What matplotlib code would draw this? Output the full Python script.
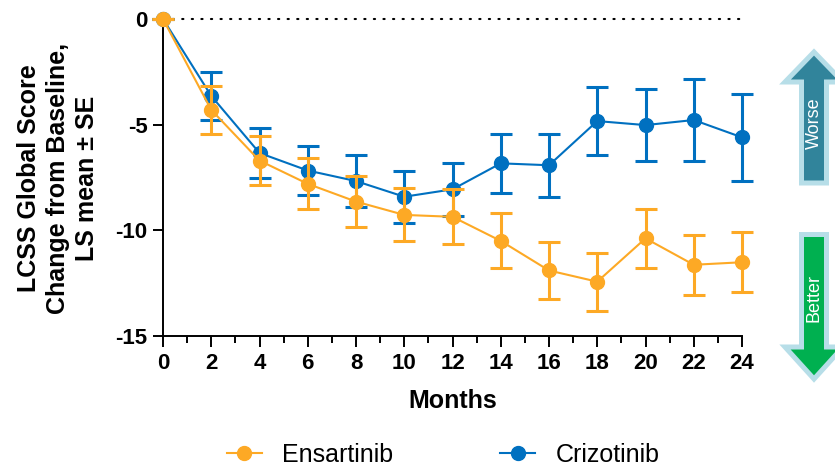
import matplotlib
matplotlib.use("Agg")
import matplotlib.pyplot as plt
from matplotlib.patches import Polygon
from matplotlib.lines import Line2D
from matplotlib.ticker import MultipleLocator

plt.rcParams['font.family'] = ['Liberation Sans', 'DejaVu Sans']
plt.rcParams['axes.unicode_minus'] = False

months = [0, 2, 4, 6, 8, 10, 12, 14, 16, 18, 20, 22, 24]

ens_mean = [0, -4.3, -6.7, -7.8, -8.64, -9.27, -9.36, -10.5, -11.9, -12.43, -10.38, -11.63, -11.51]
ens_se = [0, 1.12, 1.17, 1.21, 1.22, 1.25, 1.3, 1.3, 1.36, 1.37, 1.39, 1.41, 1.43]

criz_mean = [0, -3.64, -6.34, -7.17, -7.67, -8.41, -8.06, -6.83, -6.92, -4.83, -5.02, -4.78, -5.6]
criz_se = [0, 1.14, 1.19, 1.17, 1.22, 1.22, 1.26, 1.39, 1.49, 1.61, 1.72, 1.95, 2.06]

ens_color = '#FDA925'
criz_color = '#0070C0'

W, H = 835, 467
fig = plt.figure(figsize=(W / 100, H / 100), dpi=100)
ax = fig.add_axes([163 / W, 1 - 336 / H, (742 - 163) / W, (336 - 19) / H])

ax.plot([0, 24], [0, 0], color='black', lw=1.5, linestyle=(0, (0.6, 4.0)),
        dash_capstyle='round', zorder=1, clip_on=False)

common = dict(marker='o', markersize=10, lw=1.5, elinewidth=2.2, capsize=8,
              capthick=2.2, clip_on=False)
c = ax.errorbar(months, criz_mean, yerr=criz_se, color=criz_color, zorder=3,
                **common)
e = ax.errorbar(months, ens_mean, yerr=ens_se, color=ens_color, zorder=4,
                **common)
for cont in (c, e):
    for art in cont.lines[1]:
        art.set_clip_on(False)
    for art in cont.lines[2]:
        art.set_clip_on(False)

ax.set_xlim(0, 24)
ax.set_ylim(-15, 0)
ax.xaxis.set_major_locator(MultipleLocator(2))
ax.xaxis.set_minor_locator(MultipleLocator(1))
ax.yaxis.set_major_locator(MultipleLocator(5))
ax.spines['top'].set_visible(False)
ax.spines['right'].set_visible(False)
for s in ('left', 'bottom'):
    ax.spines[s].set_linewidth(1.4)
ax.tick_params(axis='x', which='major', direction='out', length=8, width=1.4,
               labelsize=16, pad=4)
ax.tick_params(axis='x', which='minor', direction='out', length=5, width=1.4)
ax.tick_params(axis='y', which='major', direction='out', length=7.5, width=1.4,
               labelsize=16, pad=3.5)
for lab in ax.get_xticklabels() + ax.get_yticklabels():
    lab.set_fontweight('bold')

ax.set_xlabel('Months', fontsize=18, fontweight='bold', labelpad=11)

fig.text(58 / W, 1 - 178 / H, 'LCSS Global Score\nChange from Baseline,\nLS mean ± SE',
         rotation=90, ha='center', va='center', multialignment='center',
         fontsize=18, fontweight='bold', linespacing=1.27)

handles = [Line2D([], [], color=ens_color, marker='o', markersize=10, lw=1.5),
           Line2D([], [], color=criz_color, marker='o', markersize=10, lw=1.5)]
leg = fig.legend(handles, ['Ensartinib', 'Crizotinib'], loc='center',
                 bbox_to_anchor=(443 / W, 1 - 455 / H), ncol=2, frameon=False,
                 fontsize=18, handlelength=1.4, handletextpad=0.8,
                 columnspacing=4.3)


def arrow_poly(cx, y_base, y_tip, head_y, shaft_hw, head_hw):
    # coordinates in figure pixels (y downward), converted to figure fraction
    pts = [(cx - shaft_hw, y_base), (cx - shaft_hw, head_y), (cx - head_hw, head_y),
           (cx, y_tip), (cx + head_hw, head_y), (cx + shaft_hw, head_y),
           (cx + shaft_hw, y_base)]
    return [(x / W, 1 - y / H) for x, y in pts]


outline = '#B7DEE8'
worse = Polygon(arrow_poly(814, 183, 52, 82, 12.5, 29), closed=True,
                facecolor='#31849B', edgecolor=outline, lw=3.6,
                transform=fig.transFigure, joinstyle='miter')
better = Polygon(arrow_poly(814, 234.5, 379, 347, 12.5, 29), closed=True,
                 facecolor='#00B050', edgecolor=outline, lw=3.6,
                 transform=fig.transFigure, joinstyle='miter')
fig.add_artist(worse)
fig.add_artist(better)
fig.text(814 / W, 1 - 123 / H, 'Worse', rotation=90, ha='center', va='center',
         color='white', fontsize=13)
fig.text(814 / W, 1 - 298 / H, 'Better', rotation=90, ha='center', va='center',
         color='white', fontsize=13)

fig.savefig('out.png', dpi=100)
